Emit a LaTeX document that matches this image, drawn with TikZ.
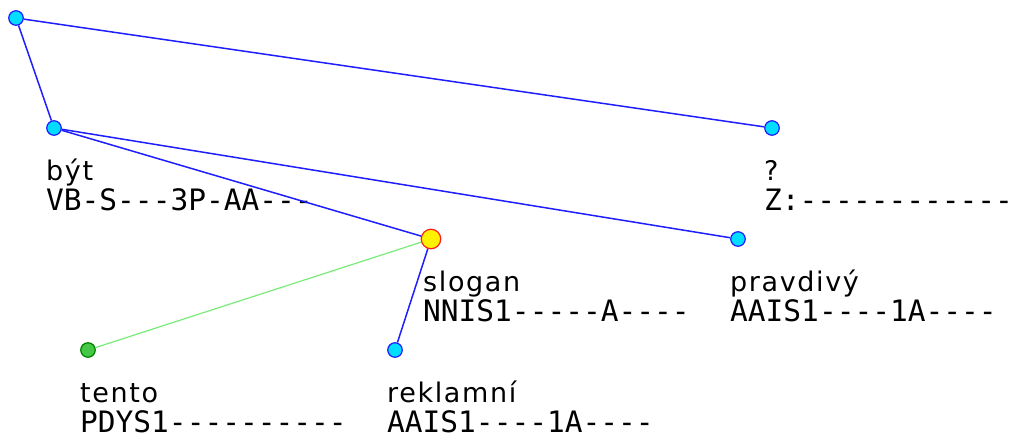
\documentclass[tikz,border=0pt]{standalone}
\usepackage{fontspec}
\setmainfont{DejaVu Sans}
\newfontfamily\wordfont[LetterSpace=6]{DejaVu Sans}
\newfontfamily\tagfont{DejaVu Sans Mono}
\definecolor{tokfill}{RGB}{0,221,255}
\definecolor{tokline}{RGB}{30,30,255}
\definecolor{leafgreen}{RGB}{70,200,70}
\definecolor{edgegreen}{RGB}{120,235,120}
\begin{document}
\begin{tikzpicture}[x=1pt,y=-1pt,
  tok/.style={circle,draw=tokline,fill=tokfill,line width=1.2pt,inner sep=0pt,minimum size=14.5pt},
  head/.style={tok,draw=red!90!white,fill=yellow,minimum size=19.5pt},
  leaf/.style={tok,draw=green!50!black,fill=leafgreen},
  word/.style={anchor=base west,inner sep=0pt,font=\wordfont\fontsize{27}{30}\selectfont},
  tag/.style={anchor=base west,inner sep=0pt,font=\tagfont\fontsize{29.5}{32}\selectfont},
  dep/.style={draw=tokline,line width=1.5pt},
  attr/.style={draw=edgegreen,line width=1.2pt}]
\useasboundingbox (0,0) rectangle (1012,436);
\node[tok] (root) at (16,18) {};
\node[tok] (byt) at (54,128) {};
\node[tok] (qm) at (772,128) {};
\node[head] (slogan) at (431,239) {};
\node[tok] (pravdivy) at (738,239) {};
\node[leaf] (tento) at (88,350) {};
\node[tok] (reklamni) at (395,350) {};
\foreach \n/\w/\t in {byt/být/VB-S---3P-AA---, qm/?/Z:-------------, slogan/slogan/NNIS1-----A----,
  pravdivy/pravdivý/AAIS1----1A----, tento/tento/PDYS1----------, reklamni/reklamní/AAIS1----1A----}{
  \node[word] (\n-w) at ([shift={(-8,52)}]\n.center) {\w};
  \node[tag] (\n-t) at ([shift={(-8,82)}]\n.center) {\t};
}
\draw[dep] (root)--(byt); \draw[dep] (root)--(qm);
\draw[dep] (byt)--(slogan); \draw[dep] (byt)--(pravdivy);
\draw[dep] (slogan)--(reklamni); \draw[attr] (slogan)--(tento);
\end{tikzpicture}
\end{document}
